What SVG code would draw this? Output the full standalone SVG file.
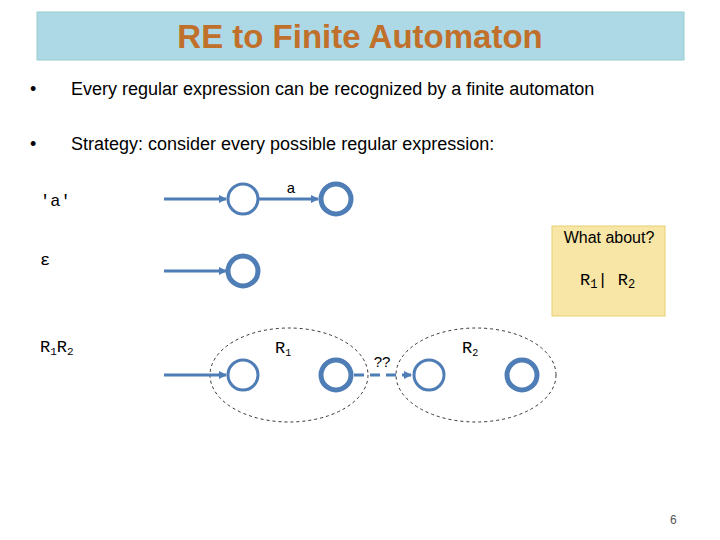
<svg xmlns="http://www.w3.org/2000/svg" width="720" height="540" viewBox="0 0 720 540">
<style>
.t{font-family:"Liberation Sans",Arial,sans-serif;font-size:18px;fill:#000}
.m{font-family:"Liberation Mono","Courier New",monospace;font-size:17px;fill:#000}
.s{fill:#fff;stroke:#4f7db5;stroke-width:3}
.f{fill:#fff;stroke:#4f7db5;stroke-width:5}
.e{stroke:#4f7db5;stroke-width:3;fill:none}
.el{fill:none;stroke:#333;stroke-width:1;stroke-dasharray:3,3}
</style>
<defs><marker id="ah" markerWidth="8" markerHeight="8" refX="7" refY="4" orient="auto" markerUnits="userSpaceOnUse"><path d="M0,0L8,4L0,8z" fill="#4f7db5"/></marker></defs>
<rect x="37" y="12" width="647" height="48" fill="#add8e6" stroke="#9cc" />
<text x="360" y="48" text-anchor="middle" font-family="Liberation Sans,Arial,sans-serif" font-weight="bold" font-size="33" fill="#c0702a">RE to Finite Automaton</text>
<text class="t" x="30" y="95">•</text><text class="t" x="71" y="95">Every regular expression can be recognized by a finite automaton</text>
<text class="t" x="30" y="150">•</text><text class="t" x="71" y="150">Strategy: consider every possible regular expression:</text>
<text class="m" x="40" y="206">'a'</text>
<text class="m" x="40" y="265" font-family="Liberation Serif,serif">ε</text>
<text class="m" x="40" y="352">R<tspan font-size="11" dy="3">1</tspan><tspan dy="-3">R</tspan><tspan font-size="11" dy="3">2</tspan></text>
<rect x="552" y="226" width="113" height="90" fill="#f7e6a6" stroke="#e8cf70"/>
<text x="609" y="243" text-anchor="middle" font-family="Liberation Sans,Arial,sans-serif" font-size="16">What about?</text>
<text class="m" x="580" y="285" font-size="19">R<tspan font-size="12" dy="3">1</tspan><tspan dy="-3">| R</tspan><tspan font-size="12" dy="3">2</tspan></text>
<ellipse class="el" cx="289" cy="375" rx="79" ry="47"/>
<ellipse class="el" cx="476" cy="375" rx="80" ry="47"/>
<g id="connectors">
<line class="e" x1="164" y1="199" x2="226" y2="199" marker-end="url(#ah)"/>
<line class="e" x1="258" y1="199" x2="318" y2="199" marker-end="url(#ah)"/>
<line class="e" x1="164" y1="271" x2="226" y2="271" marker-end="url(#ah)"/>
<line class="e" x1="164" y1="375" x2="226" y2="375" marker-end="url(#ah)"/>
<line class="e" x1="354" y1="375" x2="411" y2="375" stroke-dasharray="10,6" marker-end="url(#ah)"/>
<text x="291" y="193" text-anchor="middle" font-family="Liberation Mono,monospace" font-size="15">a</text>
<text x="382" y="367" text-anchor="middle" font-family="Liberation Sans,Arial,sans-serif" font-size="15">??</text>
</g>
<g id="n1"><circle class="s" cx="243" cy="199" r="15"/></g>
<g id="n2"><circle class="f" cx="336" cy="199" r="15"/></g>
<g id="n3"><circle class="f" cx="243" cy="271" r="15"/></g>
<g id="n4"><circle class="s" cx="243" cy="375" r="15"/></g>
<g id="n5"><circle class="f" cx="336" cy="375" r="15"/></g>
<g id="n6"><circle class="s" cx="429" cy="375" r="15"/></g>
<g id="n7"><circle class="f" cx="522" cy="375" r="15"/></g>
<text class="m" x="275" y="353" font-size="15">R<tspan font-size="10" dy="3">1</tspan></text>
<text class="m" x="462" y="353" font-size="15">R<tspan font-size="10" dy="3">2</tspan></text>
<text x="670" y="524" font-family="Liberation Sans,Arial,sans-serif" font-size="12" fill="#555">6</text>
</svg>
